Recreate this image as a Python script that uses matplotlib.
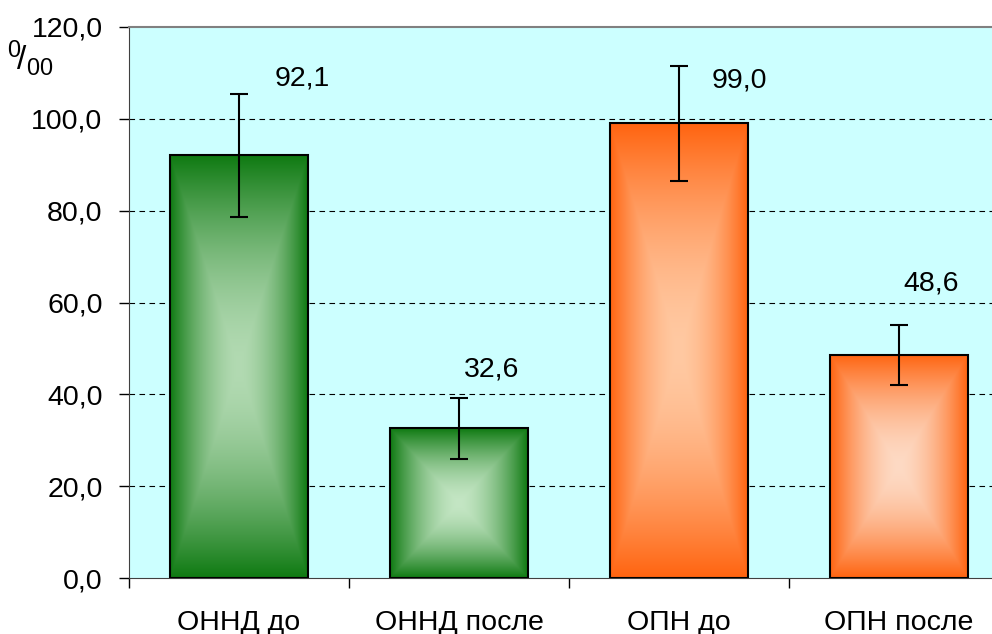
import numpy as np
import matplotlib
matplotlib.use("Agg")
import matplotlib.pyplot as plt
from matplotlib.colors import to_rgb
from matplotlib.ticker import FuncFormatter, MultipleLocator

categories = ["ОННД до", "ОННД после", "ОПН до", "ОПН после"]
values = [92.1, 32.6, 99.0, 48.6]
errors = [13.4, 6.6, 12.6, 6.5]
value_labels = ["92,1", "32,6", "99,0", "48,6"]

# styling
edge_colors = ["#0f7a12", "#0f7a12", "#ff6410", "#ff6410"]
center_colors = ["#b2dab2", "#c4e6c4", "#ffc9a2", "#fddac4"]
# label baseline offsets in pixels relative to error-bar top (dx, dy)
label_offsets = [(63, 8), (33, 22), (60, -22), (32, 34)]

plt.rcParams["font.family"] = ["Liberation Sans", "DejaVu Sans"]
plt.rcParams["mathtext.fontset"] = "custom"
plt.rcParams["mathtext.rm"] = "Liberation Sans"
plt.rcParams["mathtext.it"] = "Liberation Sans"

FS = 20.5

fig = plt.figure(figsize=(9.92, 6.34), dpi=100)
ax = fig.add_axes([129 / 992, 56 / 634, 880 / 992, 551 / 634])
ax.set_facecolor("#ccffff")

x = np.arange(len(categories))
bars = ax.bar(x, values, width=0.627, color="none", edgecolor="black",
              linewidth=1.5, zorder=3)

# gradient fills ("from center" rectangular)
n = 240
u = np.linspace(-1, 1, n)
U, V = np.meshgrid(u, u)
T = np.maximum(np.abs(U), np.abs(V))
T = T ** 1.7
for b, ec, cc in zip(bars, edge_colors, center_colors):
    e = np.array(to_rgb(ec))
    c = np.array(to_rgb(cc))
    img = c[None, None, :] * (1 - T[..., None]) + e[None, None, :] * T[..., None]
    x0, y0, w, h = b.get_x(), b.get_y(), b.get_width(), b.get_height()
    ax.imshow(img, extent=[x0, x0 + w, y0, y0 + h], aspect="auto",
              zorder=2, interpolation="bilinear")

ax.errorbar(x, values, yerr=errors, fmt="none", ecolor="black",
            elinewidth=1.5, capsize=6.5, capthick=1.5, zorder=4)

for xi, v, err, lab, (dx, dy) in zip(x, values, errors, value_labels, label_offsets):
    ax.annotate(lab, (xi, v + err), xytext=(dx, dy), textcoords="offset pixels",
                ha="center", va="baseline", fontsize=FS, zorder=5)

ax.set_xlim(-0.5, len(categories) - 0.5)
ax.set_ylim(0, 120)
ax.yaxis.set_major_locator(MultipleLocator(20))
ax.yaxis.set_major_formatter(FuncFormatter(lambda v, p: f"{v:.1f}".replace(".", ",")))
for yv in range(20, 120, 20):
    ax.axhline(yv, color="black", linestyle=(0, (5, 4)), linewidth=0.8, zorder=1)

ax.set_xticks(x)
ax.set_xticklabels(categories)
ax.set_xticks(np.arange(-0.5, len(categories), 1.0), minor=True)
ax.tick_params(axis="x", which="major", length=0, pad=23, labelsize=FS)
ax.tick_params(axis="x", which="minor", length=7, width=1, direction="out")
ax.tick_params(axis="y", length=7, width=1, pad=12, labelsize=FS, direction="out")

ax.spines["right"].set_visible(False)
ax.spines["top"].set_color("#808080")
ax.spines["top"].set_linewidth(1.5)
ax.spines["left"].set_color("#404040")
ax.spines["bottom"].set_color("#404040")

fig.text(7 / 992, 1 - 58 / 634, r"$^{0}\!/_{00}$", fontsize=24, ha="left", va="center")

fig.savefig("out.png", dpi=100)
